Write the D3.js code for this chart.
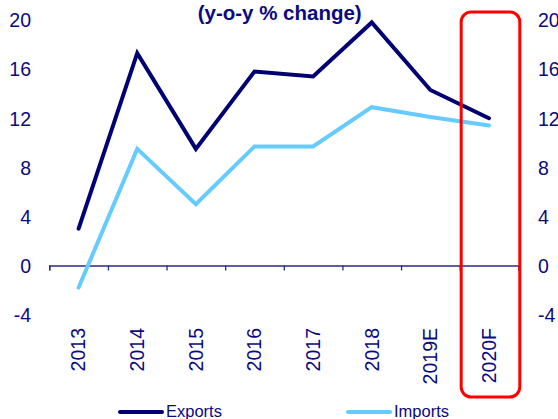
<!DOCTYPE html>
<html>
<head>
<meta charset="utf-8">
<script src="https://cdn.jsdelivr.net/npm/d3@7"></script>
<style>
  body { margin: 0; background: #fff; }
  svg { display: block; font-family: "Liberation Sans", Arial, sans-serif; }
  .tick-label { fill: #0a0a80; font-size: 19.5px; }
</style>
</head>
<body>
<svg id="chart" width="558" height="419"></svg>
<script>
// data
var years = ["2013", "2014", "2015", "2016", "2017", "2018", "2019E", "2020F"];
var exportsGrowth = [3.0, 17.3, 9.5, 15.8, 15.4, 19.8, 14.3, 12.0];
var importsGrowth = [-1.8, 9.5, 5.0, 9.7, 9.7, 12.9, 12.1, 11.4];
var yTicks = [-4, 0, 4, 8, 12, 16, 20];
var title = "(y-o-y % change)";
var seriesNames = ["Exports", "Imports"];

var navy = "#0a0a80";
var exportColor = "#000073";
var importColor = "#66ccff";

var svg = d3.select("#chart");

// scales
var xScale = d3.scaleBand()
    .domain(years)
    .range([49.3, 518.3]);
var yScale = d3.scaleLinear()
    .domain([-4, 20])
    .range([314.6, 20]);

// plain hyphen for negatives, like the source
var plain = d => String(d);

// title
svg.append("text")
    .attr("x", 279.7)
    .attr("y", 20)
    .attr("text-anchor", "middle")
    .style("font-weight", "bold")
    .style("font-size", "20.5px")
    .style("fill", navy)
    .text(title);

// left + right value labels
svg.append("g")
    .attr("transform", "translate(31,0)")
    .call(d3.axisLeft(yScale).tickValues(yTicks).tickFormat(plain).tickSize(0).tickPadding(0))
    .call(g => g.select(".domain").remove())
    .selectAll("text")
    .attr("class", "tick-label")
    .attr("dy", "0.35em");

svg.append("g")
    .attr("transform", "translate(538,0)")
    .call(d3.axisRight(yScale).tickValues(yTicks).tickFormat(plain).tickSize(0).tickPadding(0))
    .call(g => g.select(".domain").remove())
    .selectAll("text")
    .attr("class", "tick-label")
    .attr("dy", "0.35em");

// category axis at zero, ticks on the band edges
var edgeScale = d3.scaleLinear()
    .domain([0, years.length])
    .range(xScale.range());
var xAxis = svg.append("g")
    .attr("transform", "translate(0," + yScale(0) + ")")
    .call(d3.axisBottom(edgeScale)
        .ticks(years.length)
        .tickSize(5)
        .tickSizeOuter(5)
        .tickFormat(""));
xAxis.selectAll("line, path").attr("stroke", "#2a2a8a").attr("stroke-width", 1.3);

// rotated year labels
svg.append("g")
    .selectAll("text")
    .data(years)
    .enter()
    .append("text")
    .attr("class", "tick-label")
    .attr("text-anchor", "end")
    .attr("dy", "0.35em")
    .attr("transform", d => "translate(" + (xScale(d) + xScale.bandwidth() / 2) + ",328) rotate(-90)")
    .text(d => d);

// lines
var line = d3.line()
    .x((d, i) => xScale(years[i]) + xScale.bandwidth() / 2)
    .y(d => yScale(d));

[[importsGrowth, importColor], [exportsGrowth, exportColor]].forEach(function (s) {
    svg.append("path")
        .datum(s[0])
        .attr("fill", "none")
        .attr("stroke", s[1])
        .attr("stroke-width", 4)
        .attr("stroke-linejoin", "miter")
        .attr("stroke-linecap", "round")
        .attr("d", line);
});

// highlight box round the forecast year
svg.append("rect")
    .attr("x", xScale("2020F") + 1.5)
    .attr("y", 12)
    .attr("width", xScale.bandwidth())
    .attr("height", 385)
    .attr("rx", 10)
    .attr("fill", "none")
    .attr("stroke", "#ff0000")
    .attr("stroke-width", 3);

// legend
var legend = svg.append("g")
    .selectAll("g")
    .data(seriesNames)
    .enter()
    .append("g")
    .attr("transform", (d, i) => "translate(" + [120, 348][i] + ",412)");
legend.append("line")
    .attr("x1", 0).attr("x2", 42)
    .attr("stroke", (d, i) => [exportColor, importColor][i])
    .attr("stroke-width", 4)
    .attr("stroke-linecap", "round");
legend.append("text")
    .attr("x", 46)
    .attr("y", 4.8)
    .style("font-size", "16.5px")
    .style("fill", navy)
    .text(d => d);
</script>
</body>
</html>
